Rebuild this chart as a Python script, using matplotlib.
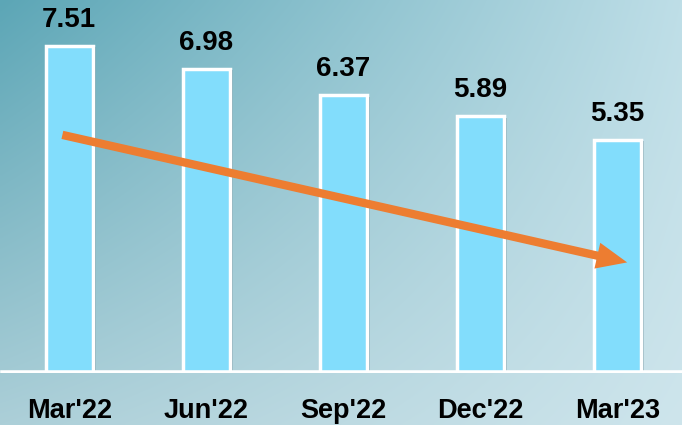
import matplotlib.pyplot as plt
import matplotlib.patheffects as pe
import numpy as np

quarters = ["Mar'22", "Jun'22", "Sep'22", "Dec'22", "Mar'23"]
values = [7.51, 6.98, 6.37, 5.89, 5.35]
# trend arrow (data coords): start / end
trend_start = (-0.05, 5.46)
trend_end = (4.07, 2.53)

fig = plt.figure(figsize=(6.82, 4.25), dpi=100)

# background gradient: darker teal at top-left, lighter towards bottom-right
bg = fig.add_axes([0, 0, 1, 1])
gy, gx = np.mgrid[0:1:200j, 0:1:300j]
tl = np.array([92, 166, 182])
tr = np.array([190, 222, 231])
bl = np.array([172, 207, 216])
br = np.array([206, 229, 236])
w = lambda a: a[..., None]
img = (w((1 - gx) * (1 - gy)) * tl + w(gx * (1 - gy)) * tr
       + w((1 - gx) * gy) * bl + w(gx * gy) * br) / 255.0
bg.imshow(img, extent=[0, 1, 0, 1], aspect='auto', interpolation='bilinear')
bg.set_axis_off()

ax = fig.add_axes([0.0, 0.1235, 1.0, 0.8765])
ax.set_facecolor('none')
x = np.arange(len(values))
ax.bar(x, values, width=0.345, color='#82DDFC', edgecolor='white', linewidth=2.5, zorder=3,
       path_effects=[pe.SimplePatchShadow(offset=(2, -1), shadow_rgbFace='#5a8593', alpha=0.5),
                     pe.Normal()])
ax.set_xlim(-0.505, 4.47)
ax.set_ylim(0, 8.56)
ax.axhline(0, color='white', lw=4, zorder=4, xmin=0.005)

for xi, v in zip(x, values):
    ax.text(xi, v + 0.3, f"{v:.2f}", ha='center', va='bottom', fontsize=20,
            fontweight='bold', family='Liberation Sans', color='black')

ax.annotate('', xy=trend_end, xytext=trend_start,
            arrowprops=dict(arrowstyle='simple,head_length=1.1,head_width=0.95,tail_width=0.3',
                            mutation_scale=20, fc='#ED7D31', ec='none', lw=0,
                            shrinkA=0, shrinkB=0), zorder=5)

ax.set_xticks(x)
ax.set_xticklabels(quarters, fontsize=19.5, fontweight='bold', family='Liberation Sans', color='black')
ax.tick_params(axis='x', length=0, pad=18)
ax.set_yticks([])
for s in ax.spines.values():
    s.set_visible(False)

fig.savefig('out.png', dpi=100)
